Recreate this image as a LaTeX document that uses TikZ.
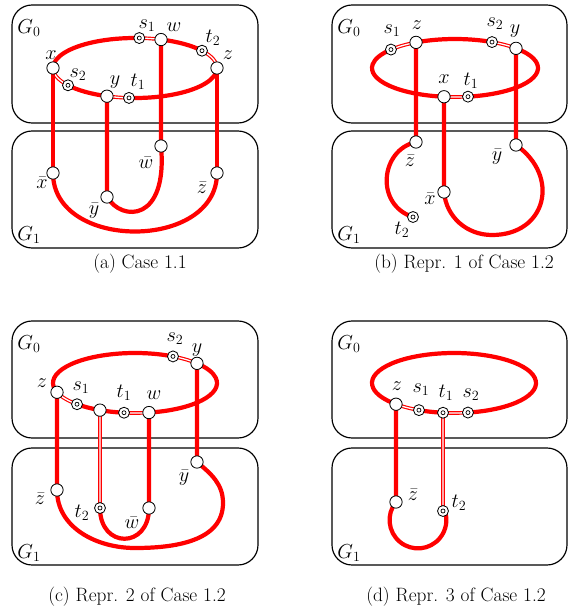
\documentclass[tikz,border=0pt]{standalone}
\pgfdeclarelayer{boxes}
\pgfdeclarelayer{edges}
\pgfsetlayers{boxes,edges,main}
\begin{document}
\begin{tikzpicture}[x=0.03cm,y=0.03cm,
  grp/.style={draw=black,line width=1pt,rounded corners=0.6cm},
  vtx/.style={circle,draw=black,fill=white,line width=0.7pt,inner sep=0pt,minimum size=0.37cm},
  term/.style={circle,draw=black,fill=white,line width=0.7pt,inner sep=0pt,minimum size=0.33cm,
     path picture={\draw[line width=0.6pt] (path picture bounding box.center) circle[radius=0.06cm];}},
  thk/.style={draw=red,line width=3.6pt},
  dbl/.style={draw=red,line width=1pt,double=white,double distance=1.1pt},
  lbl/.style={inner sep=0pt,font=\fontsize{18}{21}\selectfont},
  capt/.style={inner sep=0pt,font=\fontsize{16.5}{20}\selectfont},
  ea/.style={x radius=82,y radius=30},
  eb/.style={x radius=83,y radius=29},
]
\useasboundingbox (0,0) rectangle (570,-609);

% group boxes
\begin{pgfonlayer}{boxes}
\draw[grp] (12,-5) rectangle (258,-123);
\draw[grp] (12,-131) rectangle (258,-248);
\draw[grp] (332,-5) rectangle (567,-123);
\draw[grp] (332,-131) rectangle (567,-248);
\draw[grp] (12,-321) rectangle (258,-438);
\draw[grp] (12,-448) rectangle (258,-565);
\draw[grp] (332,-321) rectangle (567,-438);
\draw[grp] (332,-448) rectangle (567,-565);
\end{pgfonlayer}

% ---------------- (a)
\coordinate (ca) at (135,-68);
\node[vtx] (ax) at ([shift={(180:82 and 30)}]ca) {};
\node[term] (as1) at ([shift={(87:82 and 30)}]ca) {};
\node[vtx] (aw) at ([shift={(71.5:82 and 30)}]ca) {};
\node[term] (at2) at ([shift={(35.2:82 and 30)}]ca) {};
\node[vtx] (az) at ([shift={(0:82 and 30)}]ca) {};
\node[term] (at1) at ([shift={(-94.2:82 and 30)}]ca) {};
\node[vtx] (ay) at ([shift={(-110:82 and 30)}]ca) {};
\node[term] (as2) at ([shift={(-144.8:82 and 30)}]ca) {};
\node[vtx] (awb) at (161,-146) {};
\node[vtx] (axb) at (53,-173) {};
\node[vtx] (azb) at (217,-173) {};
\node[vtx] (ayb) at (107,-197) {};
\begin{pgfonlayer}{edges}
\draw[thk] (ax.center) arc[ea,start angle=180,end angle=87];
\draw[dbl] (as1.center) arc[ea,start angle=87,end angle=71.5];
\draw[thk] (aw.center) arc[ea,start angle=71.5,end angle=35.2];
\draw[dbl] (at2.center) arc[ea,start angle=35.2,end angle=0];
\draw[thk] (az.center) arc[ea,start angle=0,end angle=-94.2];
\draw[dbl] (at1.center) arc[ea,start angle=-94.2,end angle=-110];
\draw[thk] (ay.center) arc[ea,start angle=-110,end angle=-144.8];
\draw[dbl] (as2.center) arc[ea,start angle=-144.8,end angle=-180];
\draw[thk] (ax.center) -- (axb.center);
\draw[thk] (ay.center) -- (ayb.center);
\draw[thk] (aw.center) -- (awb.center);
\draw[thk] (az.center) -- (azb.center);
\draw[thk] (axb.center) .. controls (53,-251) and (217,-251) .. (azb.center);
\draw[thk] (ayb.center) .. controls (122,-222) and (168,-222) .. (awb.center);
\end{pgfonlayer}
\node[lbl] (axl) at (51,-55) {$x$};
\node[lbl] (as2l) at (78,-75) {$s_2$};
\node[lbl] (ayl) at (115,-82) {$y$};
\node[lbl] (at1l) at (138,-82) {$t_1$};
\node[lbl] (as1l) at (147,-26) {$s_1$};
\node[lbl] (awl) at (174,-27) {$w$};
\node[lbl] (at2l) at (213,-38) {$t_2$};
\node[lbl] (azl) at (228,-55) {$z$};
\node[lbl] (awbl) at (146,-163) {$\bar{w}$};
\node[lbl] (axbl) at (42,-183) {$\bar{x}$};
\node[lbl] (azbl) at (202,-188) {$\bar{z}$};
\node[lbl] (aybl) at (94,-211) {$\bar{y}$};
\node[lbl] (ag0) at (29,-28) {$G_0$};
\node[lbl] (ag1) at (29,-235) {$G_1$};
\node[capt] (acap) at (140,-264) {(a) Case 1.1};

% ---------------- (b)
\coordinate (cb) at (455,-68);
\node[term] (bs1) at ([shift={(140.5:83 and 29)}]cb) {};
\node[vtx] (bz) at ([shift={(118:83 and 29)}]cb) {};
\node[term] (bs2) at ([shift={(63.5:83 and 29)}]cb) {};
\node[vtx] (by) at ([shift={(42.7:83 and 29)}]cb) {};
\node[term] (bt1) at ([shift={(-81:83 and 29)}]cb) {};
\node[vtx] (bx) at ([shift={(-97.6:83 and 29)}]cb) {};
\node[vtx] (bzb) at (416,-142) {};
\node[vtx] (byb) at (516,-145) {};
\node[vtx] (bxb) at (444,-192) {};
\node[term] (bt2) at (413,-217) {};
\coordinate (bbot) at (492,-235);
\begin{pgfonlayer}{edges}
\draw[dbl] (bs1.center) arc[eb,start angle=140.5,end angle=118];
\draw[thk] (bz.center) arc[eb,start angle=118,end angle=63.5];
\draw[dbl] (bs2.center) arc[eb,start angle=63.5,end angle=42.7];
\draw[thk] (by.center) arc[eb,start angle=42.7,end angle=-81];
\draw[dbl] (bt1.center) arc[eb,start angle=-81,end angle=-97.6];
\draw[thk] (bx.center) arc[eb,start angle=-97.6,end angle=-219.5];
\draw[thk] (bz.center) -- (bzb.center);
\draw[thk] (bx.center) -- (bxb.center);
\draw[thk] (by.center) -- (byb.center);
\draw[thk] (bzb.center) .. controls (380,-150) and (375,-205) .. (bt2.center);
\draw[thk] (bxb.center) to[out=-85,in=180] (bbot) to[out=0,in=-35,looseness=1.5] (byb.center);
\end{pgfonlayer}
\node[lbl] (bs1l) at (392,-31) {$s_1$};
\node[lbl] (bzl) at (417,-25) {$z$};
\node[lbl] (bs2l) at (495,-24) {$s_2$};
\node[lbl] (byl) at (515,-31) {$y$};
\node[lbl] (bxl) at (444,-79) {$x$};
\node[lbl] (bt1l) at (471,-81) {$t_1$};
\node[lbl] (bzbl) at (410,-161) {$\bar{z}$};
\node[lbl] (bybl) at (497,-157) {$\bar{y}$};
\node[lbl] (bxbl) at (430,-199) {$\bar{x}$};
\node[lbl] (bt2l) at (402,-230) {$t_2$};
\node[lbl] (bg0) at (349,-28) {$G_0$};
\node[lbl] (bg1) at (349,-235) {$G_1$};
\node[capt] (bcap) at (464,-264) {(b) Repr. 1 of Case 1.2};

% ---------------- (c)
\coordinate (cc) at (135,-383);
\node[vtx] (cz) at ([shift={(-162:82 and 30)}]cc) {};
\node[term] (cs1) at ([shift={(-135:82 and 30)}]cc) {};
\node[vtx] (cu) at ([shift={(-115.3:82 and 30)}]cc) {};
\node[term] (ct1) at ([shift={(-97.7:82 and 30)}]cc) {};
\node[vtx] (cw) at ([shift={(-80.2:82 and 30)}]cc) {};
\node[vtx] (cy) at ([shift={(40.9:82 and 30)}]cc) {};
\node[term] (cs2) at ([shift={(62.4:82 and 30)}]cc) {};
\node[vtx] (czb) at (57,-490) {};
\node[term] (ct2) at (100,-508) {};
\node[vtx] (cwb) at (149,-508) {};
\node[vtx] (cyb) at (197,-462) {};
\coordinate (cbot) at (135,-548);
\coordinate (crt) at (223,-503);
\begin{pgfonlayer}{edges}
\draw[dbl] (cz.center) arc[ea,start angle=-162,end angle=-135];
\draw[thk] (cs1.center) arc[ea,start angle=-135,end angle=-97.7];
\draw[dbl] (ct1.center) arc[ea,start angle=-97.7,end angle=-80.2];
\draw[thk] (cw.center) arc[ea,start angle=-80.2,end angle=40.9];
\draw[dbl] (cy.center) arc[ea,start angle=40.9,end angle=62.4];
\draw[thk] (cs2.center) arc[ea,start angle=62.4,end angle=198];
\draw[thk] (cz.center) -- (czb.center);
\draw[dbl] (cu.center) -- (ct2.center);
\draw[thk] (cw.center) -- (cwb.center);
\draw[thk] (cy.center) -- (cyb.center);
\draw[thk] (ct2.center) .. controls (100,-549) and (149,-549) .. (cwb.center);
\draw[thk] (czb.center) to[out=-90,in=180] (cbot) to[out=0,in=-90] (crt) to[out=90,in=-40] (cyb.center);
\end{pgfonlayer}
\node[lbl] (cs2l) at (175,-339) {$s_2$};
\node[lbl] (cyl) at (197,-350) {$y$};
\node[lbl] (czl) at (42,-383) {$z$};
\node[lbl] (cs1l) at (81,-388) {$s_1$};
\node[lbl] (ct1l) at (124,-393) {$t_1$};
\node[lbl] (cwl) at (154,-395) {$w$};
\node[lbl] (cybl) at (184,-478) {$\bar{y}$};
\node[lbl] (czbl) at (40,-499) {$\bar{z}$};
\node[lbl] (ct2l) at (82,-513) {$t_2$};
\node[lbl] (cwbl) at (132,-523) {$\bar{w}$};
\node[lbl] (cg0) at (29,-344) {$G_0$};
\node[lbl] (cg1) at (29,-553) {$G_1$};
\node[capt] (ccap) at (137,-597) {(c) Repr. 2 of Case 1.2};

% ---------------- (d)
\coordinate (cdd) at (454,-383);
\node[vtx] (dz) at ([shift={(-135:82 and 30)}]cdd) {};
\node[term] (ds1) at ([shift={(-115.3:82 and 30)}]cdd) {};
\node[term] (dt1) at ([shift={(-97.7:82 and 30)}]cdd) {};
\node[term] (ds2) at ([shift={(-80.2:82 and 30)}]cdd) {};
\node[vtx] (dzb) at (396,-502) {};
\node[term] (dt2) at (443,-511) {};
\begin{pgfonlayer}{edges}
\draw[dbl] (dz.center) arc[ea,start angle=-135,end angle=-115.3];
\draw[thk] (ds1.center) arc[ea,start angle=-115.3,end angle=-97.7];
\draw[dbl] (dt1.center) arc[ea,start angle=-97.7,end angle=-80.2];
\draw[thk] (ds2.center) arc[ea,start angle=-80.2,end angle=225];
\draw[thk] (dz.center) -- (dzb.center);
\draw[dbl] (dt1.center) -- (dt2.center);
\draw[thk] (dzb.center) arc[start angle=140.7,end angle=379.8,radius=28.4];
\end{pgfonlayer}
\node[lbl] (dzl) at (397,-386) {$z$};
\node[lbl] (ds1l) at (421,-390) {$s_1$};
\node[lbl] (dt1l) at (446,-393) {$t_1$};
\node[lbl] (ds2l) at (471,-395) {$s_2$};
\node[lbl] (dzbl) at (413,-495) {$\bar{z}$};
\node[lbl] (dt2l) at (459,-503) {$t_2$};
\node[lbl] (dg0) at (349,-344) {$G_0$};
\node[lbl] (dg1) at (349,-553) {$G_1$};
\node[capt] (dcap) at (456,-597) {(d) Repr. 3 of Case 1.2};
\end{tikzpicture}
\end{document}
